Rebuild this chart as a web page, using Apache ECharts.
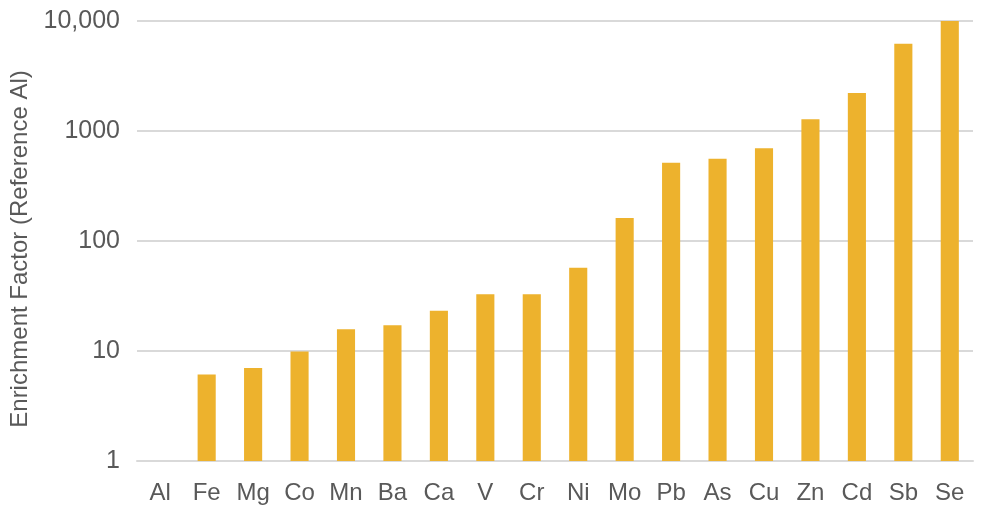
<!DOCTYPE html>
<html>
<head>
<meta charset="utf-8">
<script src="https://cdn.jsdelivr.net/npm/echarts@6/dist/echarts.min.js"></script>
<style>
  html, body { margin: 0; padding: 0; background: #ffffff; }
  #chart { width: 983px; height: 510px; }
</style>
</head>
<body>
<div id="chart"></div>
<script>
// Elements, ordered by enrichment factor relative to Al
const elements = ['Al', 'Fe', 'Mg', 'Co', 'Mn', 'Ba', 'Ca', 'V', 'Cr', 'Ni',
                  'Mo', 'Pb', 'As', 'Cu', 'Zn', 'Cd', 'Sb', 'Se'];
const enrichmentFactor = [1, 6.1, 7.0, 9.9, 15.8, 17.1, 23.2, 32.8, 32.8, 57.2,
                          162, 515, 560, 696, 1277, 2215, 6220, 10000];
// Labels shown on the logarithmic value axis
const tickValues = [1, 10, 100, 1000, 10000];
const tickLabels = ['1', '10', '100', '1000', '10,000'];

const textColor = '#595959';
const gridColor = '#d9d9d9';
const barColor = '#EDB22D';
const fontFamily = '"Liberation Sans", Arial, sans-serif';

const chart = echarts.init(document.getElementById('chart'), null, { renderer: 'canvas' });

chart.setOption({
  animation: false,
  backgroundColor: '#ffffff',
  grid: { left: 137, right: 10, top: 21, bottom: 49, containLabel: false },
  xAxis: {
    type: 'category',
    data: elements,
    axisLine: { show: true, lineStyle: { color: gridColor, width: 2 } },
    axisTick: { show: false },
    axisLabel: {
      color: textColor,
      fontSize: 24,
      fontFamily: fontFamily,
      margin: 20,
      interval: 0
    }
  },
  yAxis: {
    type: 'log',
    logBase: 10,
    min: 1,
    max: 10000,
    name: 'Enrichment Factor (Reference Al)',
    nameLocation: 'middle',
    nameRotate: 90,
    nameGap: 100,
    nameTextStyle: {
      color: textColor,
      fontSize: 24,
      fontFamily: fontFamily,
      padding: [0, 16, 0, 0]
    },
    axisLine: { show: false },
    axisTick: { show: false },
    splitLine: { show: true, lineStyle: { color: gridColor, width: 2 } },
    axisLabel: {
      color: textColor,
      fontSize: 25,
      fontFamily: fontFamily,
      margin: 17,
      formatter: function (v) {
        const i = tickValues.indexOf(Math.round(v));
        return i >= 0 ? tickLabels[i] : '';
      }
    }
  },
  series: [{
    type: 'bar',
    data: enrichmentFactor,
    barWidth: '39%',
    itemStyle: { color: barColor },
    z: 3
  }]
});
</script>
</body>
</html>
